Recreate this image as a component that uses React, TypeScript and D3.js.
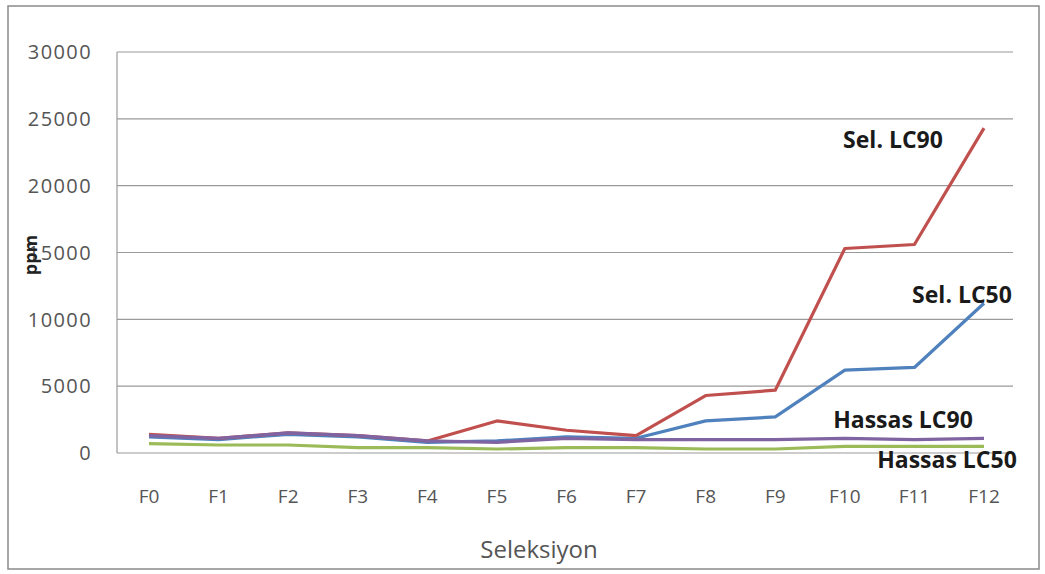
import React from "react";
import * as d3 from "d3";

const categories = ["F0", "F1", "F2", "F3", "F4", "F5", "F6", "F7", "F8", "F9", "F10", "F11", "F12"];
const selLC50 = [1200, 1000, 1400, 1200, 800, 900, 1200, 1100, 2400, 2700, 6200, 6400, 11200];
const selLC90 = [1400, 1100, 1500, 1300, 900, 2400, 1700, 1300, 4300, 4700, 15300, 15600, 24300];
const hassasLC50 = [700, 600, 600, 400, 400, 300, 400, 400, 300, 300, 500, 500, 500];
const hassasLC90 = [1300, 1100, 1500, 1300, 900, 800, 1100, 1000, 1000, 1000, 1100, 1000, 1100];
const yTicks = [0, 5000, 10000, 15000, 20000, 25000, 30000];

const seriesList = [
  { name: "Sel. LC50", values: selLC50, color: "#4F81BD", lx: 962, ly: 303 },
  { name: "Sel. LC90", values: selLC90, color: "#C0504D", lx: 893, ly: 148 },
  { name: "Hassas LC50", values: hassasLC50, color: "#9BBB59", lx: 947, ly: 468 },
  { name: "Hassas LC90", values: hassasLC90, color: "#8064A2", lx: 903, ly: 428 },
];

const W = 1045;
const H = 574;
const plot = { left: 117, right: 1013, top: 52, bottom: 453 };

export default function App() {
  const x = d3.scalePoint<string>().domain(categories).range([149, 984]);
  const y = d3.scaleLinear().domain([0, 30000]).range([plot.bottom, plot.top]);
  const line = d3
    .line<number>()
    .x((_, i) => x(categories[i]) as number)
    .y((v) => y(v));

  const font = "Open Sans, DejaVu Sans, sans-serif";

  return (
    <svg
      width={W}
      height={H}
      style={{ position: "absolute", left: 0, top: 0, background: "#fff" }}
    >
      <rect x={8} y={6} width={1031} height={563} fill="#fff" stroke="#8a8a8a" strokeWidth={1.5} />
      {yTicks.map((t) => (
        <g key={t}>
          {t > 0 && (
            <line x1={plot.left} x2={plot.right} y1={y(t)} y2={y(t)} stroke="#9a9a9a" strokeWidth={1.2} />
          )}
          <text
            x={92}
            y={y(t)}
            dy="0.36em"
            textAnchor="end"
            fontFamily={font}
            fontSize={20}
            letterSpacing={1.4}
            fill="#555"
          >
            {t}
          </text>
        </g>
      ))}
      <line x1={plot.left} x2={plot.left} y1={plot.top} y2={plot.bottom} stroke="#9a9a9a" strokeWidth={1.2} />
      <line x1={plot.left} x2={plot.right} y1={plot.bottom} y2={plot.bottom} stroke="#9a9a9a" strokeWidth={1.2} />
      {categories.map((c) => (
        <text
          key={c}
          x={x(c) as number}
          y={503}
          textAnchor="middle"
          fontFamily={font}
          fontSize={19}
          fill="#555"
        >
          {c}
        </text>
      ))}
      {seriesList.map((s) => (
        <path
          key={s.name}
          d={line(s.values) ?? ""}
          fill="none"
          stroke={s.color}
          strokeWidth={3.2}
          strokeLinejoin="round"
        />
      ))}
      {seriesList.map((s) => (
        <text
          key={s.name + "-label"}
          x={s.lx}
          y={s.ly}
          textAnchor="middle"
          fontFamily={font}
          fontWeight="bold"
          fontSize={23}
          fill="#1a1a1a"
        >
          {s.name}
        </text>
      ))}
      <text x={539} y={558} textAnchor="middle" fontFamily={font} fontSize={24} fill="#555">
        Seleksiyon
      </text>
      <text
        transform="translate(37,255) rotate(-90)"
        textAnchor="middle"
        fontFamily={font}
        fontWeight="bold"
        fontSize={18}
        fill="#222"
      >
        ppm
      </text>
    </svg>
  );
}
